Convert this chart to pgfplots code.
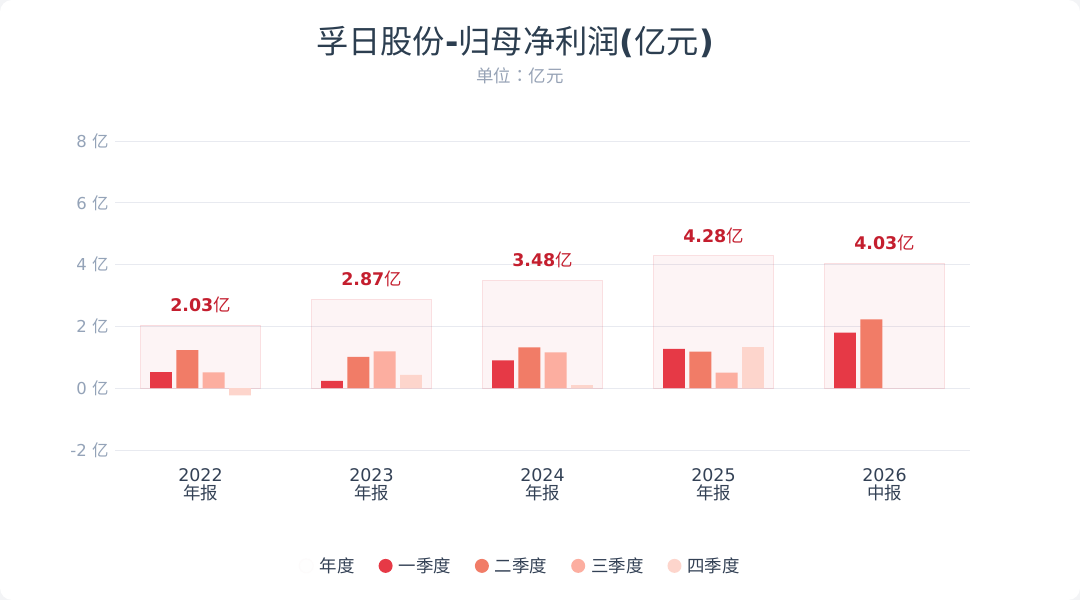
\documentclass[border=0pt]{standalone}
\usepackage{fontspec}
\setmainfont{DejaVu Sans}
\newfontfamily\cjk{Noto Sans CJK SC}
\newfontfamily\cjktc{Noto Sans CJK TC}
\usepackage{pgfplots}
\usepackage{pgfplotstable}
\pgfplotsset{compat=1.18}
\definecolor{q1}{HTML}{E63946}
\definecolor{q2}{HTML}{F17C67}
\definecolor{q3}{HTML}{FCAEA0}
\definecolor{q4}{HTML}{FDD5CC}
\definecolor{annfill}{HTML}{F9ECEE}
\definecolor{lab}{HTML}{C41E2E}
\definecolor{titlec}{HTML}{2C3E50}
\definecolor{subc}{HTML}{97A3B6}
\definecolor{tickc}{HTML}{94A3B8}
\definecolor{xlab}{HTML}{334155}
\definecolor{gridc}{HTML}{E8EAF0}
\definecolor{outer}{HTML}{F3F4F6}

\pgfplotstableread{
x annual q1 q2 q3 q4
0 2.03 0.52 1.23 0.51 -0.23
1 2.87 0.24 1.01 1.19 0.43
2 3.48 0.90 1.32 1.16 0.10
3 4.28 1.27 1.18 0.50 1.33
4 4.03 1.80 2.23 nan nan
}\datatable

\begin{document}
\begin{tikzpicture}
\fill[outer] (0bp,0bp) rectangle (1080bp,600bp);
\fill[white, rounded corners=12bp] (0bp,0bp) rectangle (1080bp,600bp);
\node[text=titlec, font=\fontsize{32.4}{38}\selectfont] at (515bp,558bp)
  {{\cjk 孚日股份}\textbf{-}{\cjk 归母净利润}\textbf{(}{\cjk 亿元}\textbf{)}};
\node[text=subc, font=\fontsize{17.5}{20}\selectfont\cjk] at (520bp,524bp) {单位{\cjktc ：}亿元};
\begin{axis}[
  at={(115bp,150bp)}, anchor=south west,
  scale only axis, width=855bp, height=309bp,
  xmin=-0.5, xmax=4.5, ymin=-2, ymax=8,
  axis line style={draw=none},
  major tick length=0pt,
  ymajorgrids, major grid style={gridc, line width=0.8bp},
  ytick={-2,0,2,4,6,8},
  yticklabels={-2 {\cjk 亿},0 {\cjk 亿},2 {\cjk 亿},4 {\cjk 亿},6 {\cjk 亿},8 {\cjk 亿}},
  yticklabel style={text=tickc, font=\fontsize{16.5}{18}\selectfont, xshift=-3bp},
  xtick={0,1,2,3,4},
  xticklabels={{2022\\{\cjk 年报}},{2023\\{\cjk 年报}},{2024\\{\cjk 年报}},{2025\\{\cjk 年报}},{2026\\{\cjk 中报}}},
  xticklabel style={text=xlab, align=center, font=\fontsize{17.5}{18}\selectfont, yshift=-15bp},
  legend columns=5,
  legend cell align=left,
  legend style={at={(0.474,-0.375)}, anchor=center, draw=none, fill=none,
    font=\fontsize{17.5}{20}\selectfont\cjk, text=xlab,
    /tikz/every odd column/.append style={column sep=4bp},
    /tikz/every even column/.append style={column sep=22bp}},
]
\addplot[ybar, bar width=0.696, bar shift=0, fill=q1, fill opacity=0.05, draw=q1, draw opacity=0.15, line width=1bp,
  point meta=y,
  nodes near coords={\pgfmathprintnumber[fixed,fixed zerofill,precision=2,assume math mode=true]{\pgfplotspointmeta}{\cjk\mdseries 亿}},
  every node near coord/.append style={anchor=south, inner sep=0pt, yshift=12bp, text=lab, text opacity=1, fill opacity=1, draw opacity=1,
    font=\fontsize{17.5}{20}\selectfont\bfseries},
  legend image code/.code={\fill[annfill] (0bp,0bp) circle (7bp);}
] table[x=x,y=annual]{\datatable};
\addlegendentry{年度}
\addplot[ybar, bar width=0.128, bar shift=-0.231, fill=q1, draw=none,
  legend image code/.code={\fill[q1] (0bp,0bp) circle (7bp);}]
  table[x=x,y=q1]{\datatable};
\addlegendentry{一季度}
\addplot[ybar, bar width=0.128, bar shift=-0.077, fill=q2, draw=none,
  legend image code/.code={\fill[q2] (0bp,0bp) circle (7bp);}]
  table[x=x,y=q2]{\datatable};
\addlegendentry{二季度}
\addplot[ybar, bar width=0.128, bar shift=0.077, fill=q3, draw=none,
  legend image code/.code={\fill[q3] (0bp,0bp) circle (7bp);}]
  table[x=x,y=q3]{\datatable};
\addlegendentry{三季度}
\addplot[ybar, bar width=0.128, bar shift=0.231, fill=q4, draw=none,
  legend image code/.code={\fill[q4] (0bp,0bp) circle (7bp);}]
  table[x=x,y=q4]{\datatable};
\addlegendentry{四季度}
\end{axis}
\end{tikzpicture}
\end{document}
